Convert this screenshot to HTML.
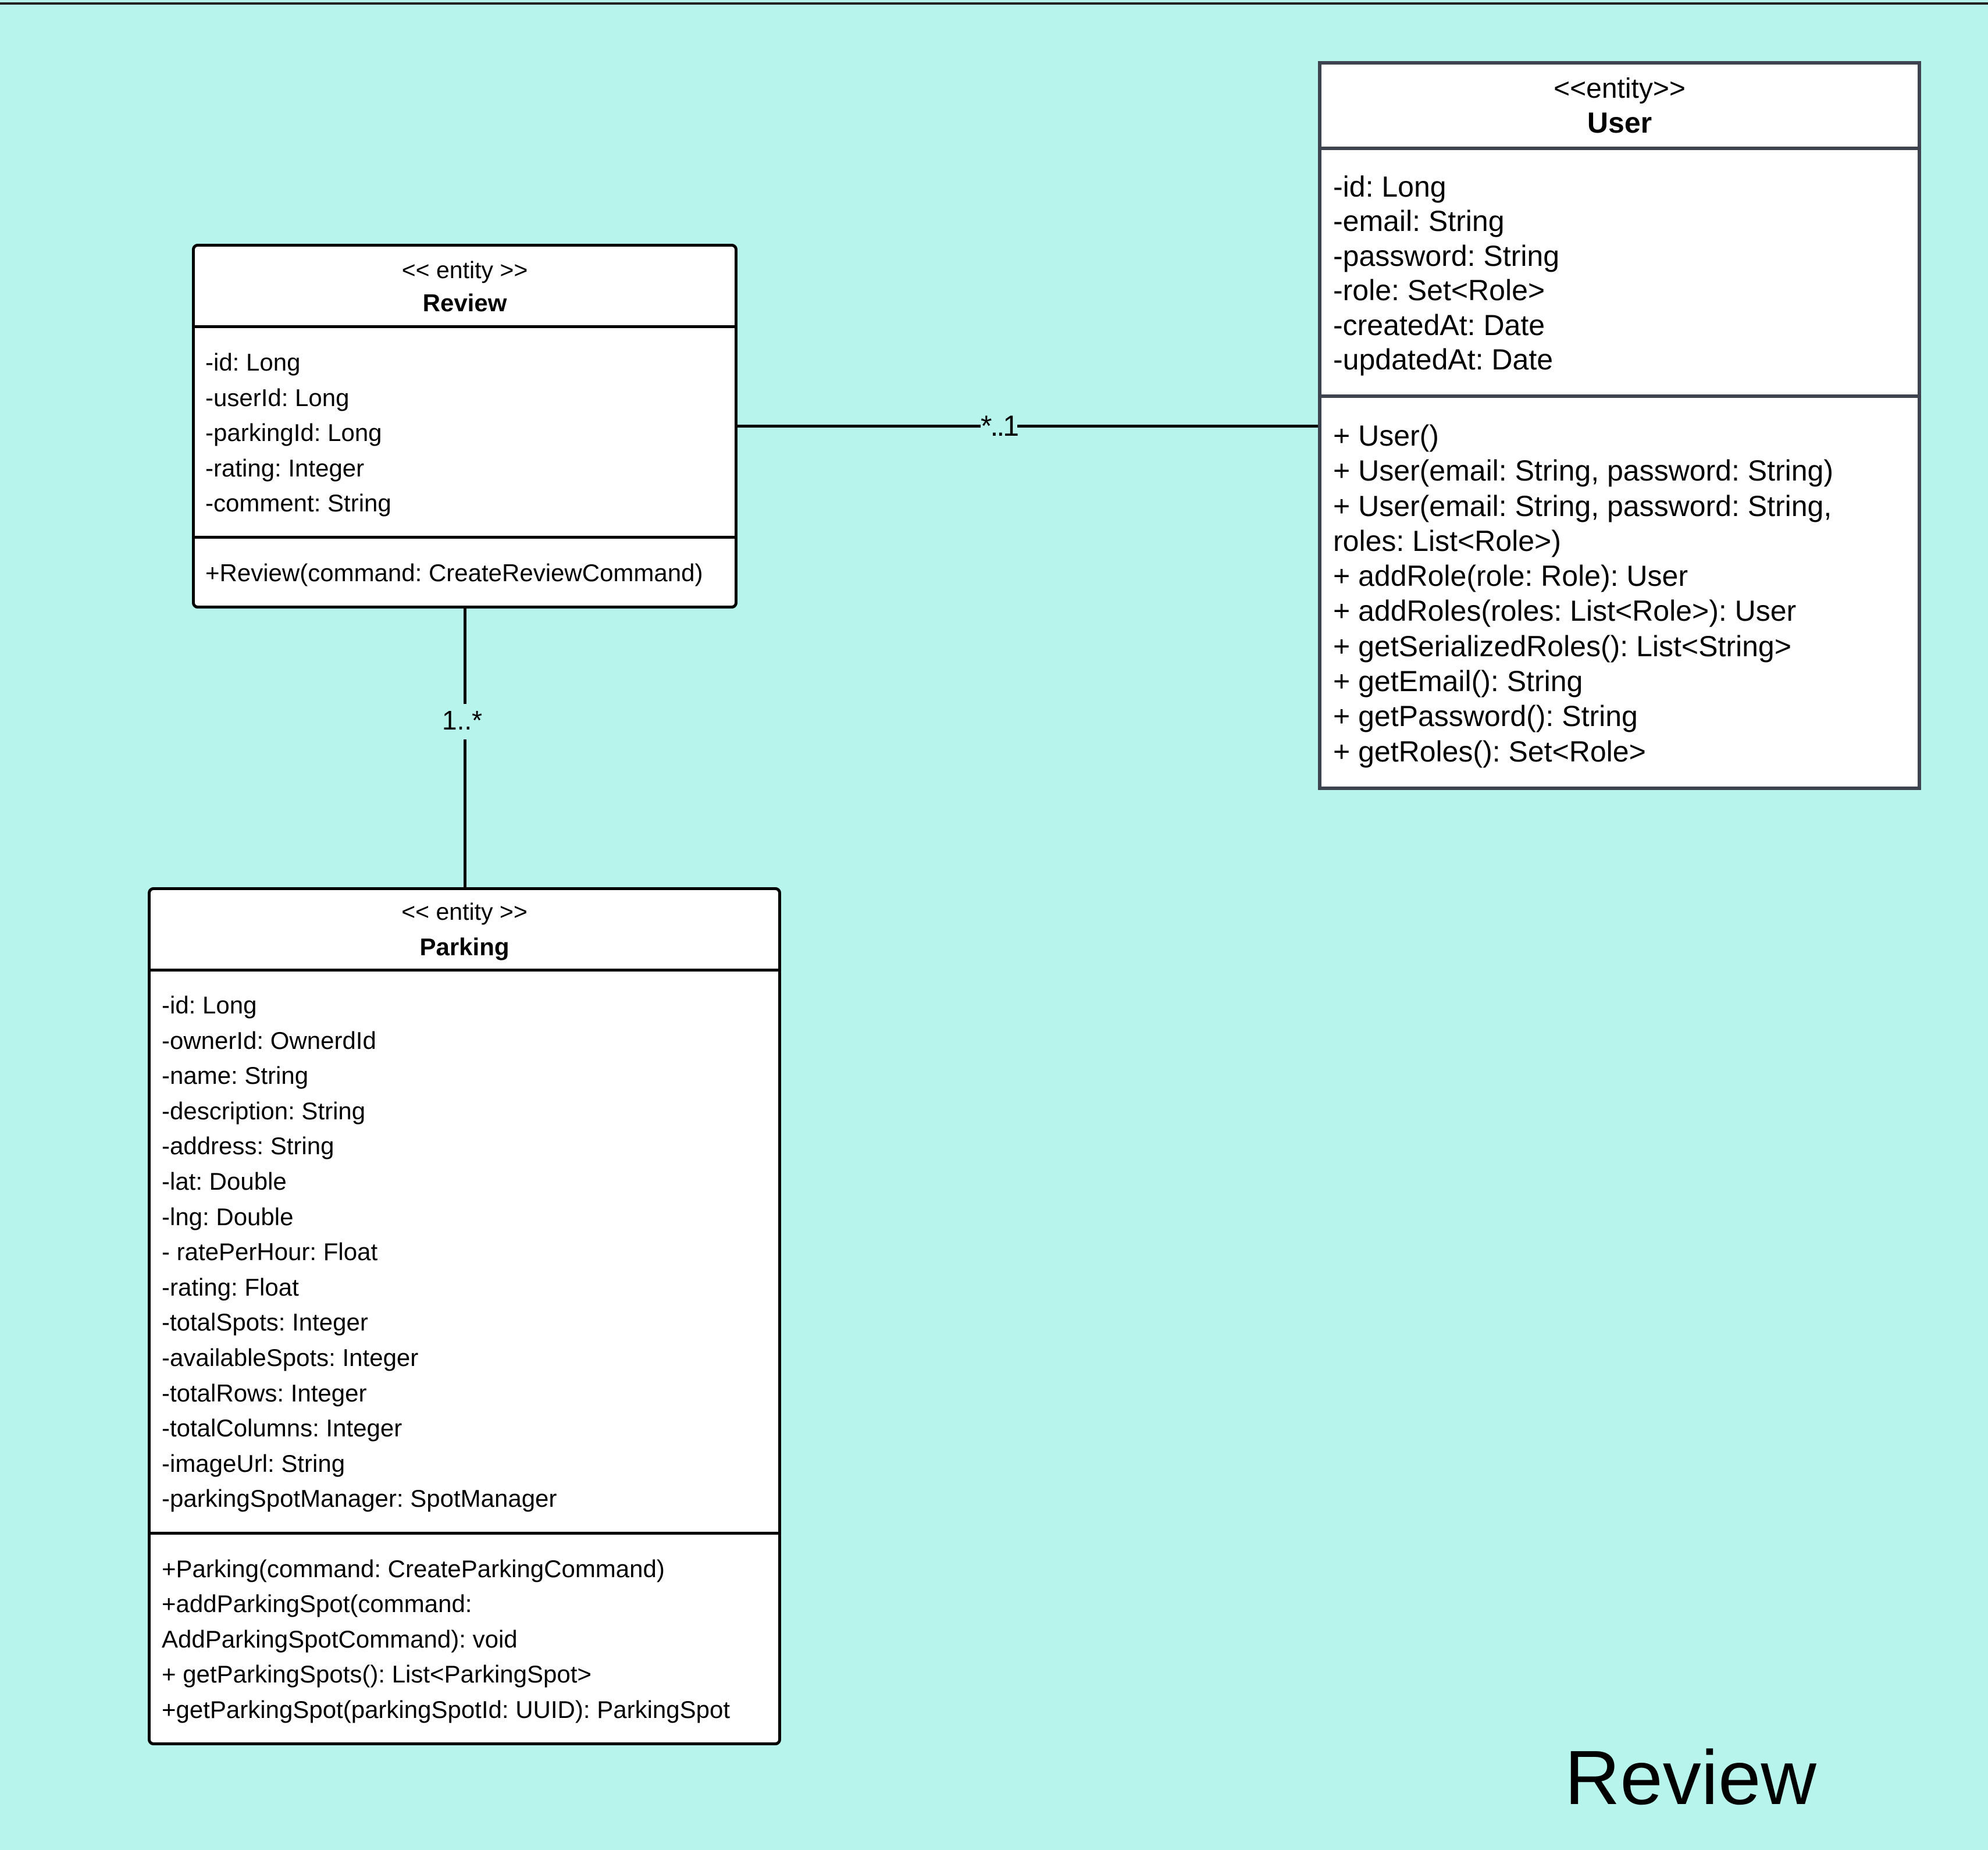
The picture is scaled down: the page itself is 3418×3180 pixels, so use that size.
<!DOCTYPE html>
<html><head><meta charset="utf-8"><style>
html,body{margin:0;padding:0}
body{width:3418px;height:3180px;background:#b7f4ec;position:relative;overflow:hidden;font-family:"Liberation Sans",sans-serif;color:#000}
.box{position:absolute;background:#fff;box-sizing:border-box}
.t{position:absolute;white-space:nowrap}
.hl{position:absolute;height:5px;background:#000}
.vl{position:absolute;width:5px;background:#000}
</style></head><body>
<div style="position:absolute;left:0;top:4px;width:3418px;height:4px;background:#222"></div>

<!-- Review box -->
<div class="box" style="left:330px;top:419px;width:938px;height:627px;border:5px solid #000;border-radius:10px"></div>
<div class="hl" style="left:330px;top:559px;width:938px;height:5px"></div>
<div class="hl" style="left:330px;top:921px;width:938px;height:5px"></div>
<div style="position:absolute;left:330px;top:434px;width:938px;font-size:41px;line-height:60px;text-align:center">&lt;&lt; entity &gt;&gt;</div>
<div style="position:absolute;left:330px;top:491px;width:938px;font-size:42px;line-height:60px;text-align:center;font-weight:bold">Review</div>
<div class="t" style="left:353px;top:593px;font-size:42px;line-height:60.6px">-id: Long<br>-userId: Long<br>-parkingId: Long<br>-rating: Integer<br>-comment: String</div>
<div class="t" style="left:353px;top:955px;font-size:42px;line-height:60px">+Review(command: CreateReviewCommand)</div>

<!-- User box -->
<div class="box" style="left:2266px;top:105px;width:1037px;height:1253px;border:6px solid #3d4450"></div>
<div class="hl" style="left:2266px;top:252px;width:1037px;height:6px;background:#3d4450"></div>
<div class="hl" style="left:2266px;top:678px;width:1037px;height:6px;background:#3d4450"></div>
<div style="position:absolute;left:2266px;top:123px;width:1037px;font-size:48px;line-height:60px;text-align:center">&lt;&lt;entity&gt;&gt;</div>
<div style="position:absolute;left:2266px;top:181px;width:1037px;font-size:50px;line-height:60px;text-align:center;font-weight:bold">User</div>
<div class="t" style="left:2292px;top:292px;font-size:50px;line-height:59.4px">-id: Long<br>-email: String<br>-password: String<br>-role: Set&lt;Role&gt;<br>-createdAt: Date<br>-updatedAt: Date</div>
<div class="t" style="left:2292px;top:719px;font-size:50px;line-height:60.3px">+ User()<br>+ User(email: String, password: String)<br>+ User(email: String, password: String,<br>roles: List&lt;Role&gt;)<br>+ addRole(role: Role): User<br>+ addRoles(roles: List&lt;Role&gt;): User<br>+ getSerializedRoles(): List&lt;String&gt;<br>+ getEmail(): String<br>+ getPassword(): String<br>+ getRoles(): Set&lt;Role&gt;</div>

<!-- Parking box -->
<div class="box" style="left:254px;top:1525px;width:1089px;height:1475px;border:5px solid #000;border-radius:10px"></div>
<div class="hl" style="left:254px;top:1665px;width:1089px;height:5px"></div>
<div class="hl" style="left:254px;top:2633px;width:1089px;height:5px"></div>
<div style="position:absolute;left:254px;top:1537px;width:1089px;font-size:41px;line-height:60px;text-align:center">&lt;&lt; entity &gt;&gt;</div>
<div style="position:absolute;left:254px;top:1598px;width:1089px;font-size:42px;line-height:60px;text-align:center;font-weight:bold">Parking</div>
<div class="t" style="left:278px;top:1698px;font-size:42px;line-height:60.6px">-id: Long<br>-ownerId: OwnerdId<br>-name: String<br>-description: String<br>-address: String<br>-lat: Double<br>-lng: Double<br>- ratePerHour: Float<br>-rating: Float<br>-totalSpots: Integer<br>-availableSpots: Integer<br>-totalRows: Integer<br>-totalColumns: Integer<br>-imageUrl: String<br>-parkingSpotManager: SpotManager</div>
<div class="t" style="left:278px;top:2667px;font-size:42px;line-height:60.4px">+Parking(command: CreateParkingCommand)<br>+addParkingSpot(command:<br>AddParkingSpotCommand): void<br>+ getParkingSpots(): List&lt;ParkingSpot&gt;<br>+getParkingSpot(parkingSpotId: UUID): ParkingSpot</div>

<!-- connectors -->
<div class="hl" style="left:1268px;top:730px;width:418px"></div>
<div class="hl" style="left:1749px;top:730px;width:517px"></div>
<div class="t" style="left:1686px;top:702px;font-size:50px;line-height:60px;letter-spacing:-3px">*..1</div>
<div class="vl" style="left:797px;top:1046px;height:164px"></div>
<div class="vl" style="left:797px;top:1271px;height:254px"></div>
<div class="t" style="left:760px;top:1208px;font-size:46px;line-height:60px">1..*</div>

<div class="t" style="left:2690px;top:2976px;font-size:132px;line-height:160px">Review</div>
</body></html>
